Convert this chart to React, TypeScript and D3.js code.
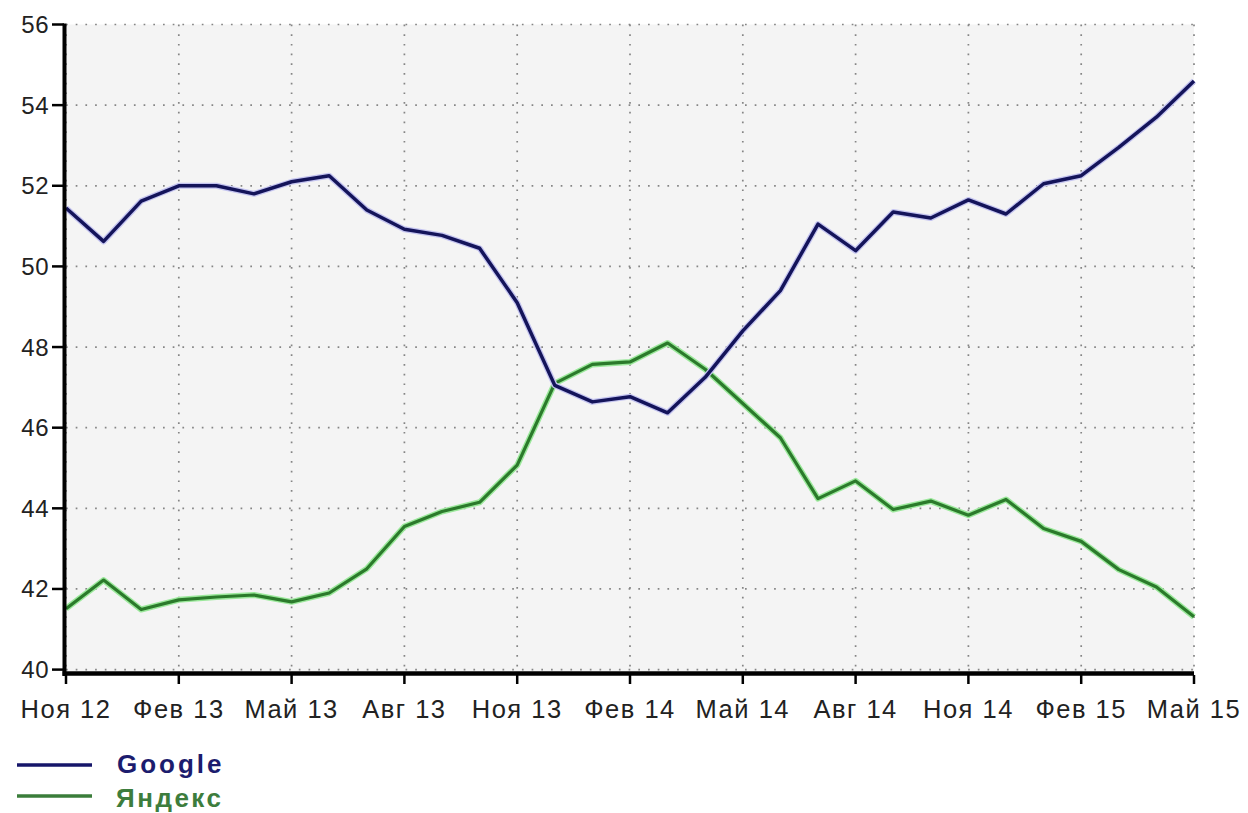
import React from "react";
import * as d3 from "d3";

const months = [
  "Ноя 12", "Дек 12", "Янв 13", "Фев 13", "Мар 13", "Апр 13", "Май 13", "Июн 13", "Июл 13", "Авг 13",
  "Сен 13", "Окт 13", "Ноя 13", "Дек 13", "Янв 14", "Фев 14", "Мар 14", "Апр 14", "Май 14", "Июн 14",
  "Июл 14", "Авг 14", "Сен 14", "Окт 14", "Ноя 14", "Дек 14", "Янв 15", "Фев 15", "Мар 15", "Апр 15", "Май 15",
];

const google = [
  51.45, 50.62, 51.62, 52.0, 52.0, 51.8, 52.1, 52.25, 51.4, 50.92,
  50.77, 50.45, 49.1, 47.05, 46.64, 46.77, 46.37, 47.25, 48.4, 49.4,
  51.05, 50.39, 51.35, 51.2, 51.65, 51.3, 52.05, 52.25, 52.95, 53.7, 54.6,
];

const yandex = [
  41.51, 42.22, 41.49, 41.73, 41.8, 41.85, 41.68, 41.9, 42.5, 43.55,
  43.92, 44.15, 45.07, 47.1, 47.57, 47.63, 48.1, 47.45, 46.6, 45.75,
  44.24, 44.68, 43.97, 44.18, 43.83, 44.22, 43.5, 43.18, 42.48, 42.05, 41.31,
];

const xTickIdx = [0, 3, 6, 9, 12, 15, 18, 21, 24, 27, 30];
const yTicks = [40, 42, 44, 46, 48, 50, 52, 54, 56];

const seriesNames = ["Google", "Яндекс"];

export default function App() {
  const W = 1248;
  const H = 813;
  const x = d3.scaleLinear().domain([0, months.length - 1]).range([66, 1194]);
  const y = d3.scaleLinear().domain([40, 56]).range([669.6, 24.5]);
  const line = d3
    .line<number>()
    .x((_, i) => x(i))
    .y((d) => y(d));

  const font = "'Liberation Sans', Arial, sans-serif";
  const grid = "#858585";

  return (
    <svg
      width={W}
      height={H}
      viewBox={`0 0 ${W} ${H}`}
      style={{ position: "absolute", left: 0, top: 0, background: "#ffffff" }}
    >
      {/* plot background */}
      <rect x={64} y={y(56)} width={x(30) - 64} height={671 - y(56)} fill="#f4f4f4" />

      {/* horizontal grid */}
      {yTicks.map((t) => (
        <line
          key={"hg" + t}
          x1={66}
          x2={x(30)}
          y1={y(t)}
          y2={y(t)}
          stroke={grid}
          strokeWidth={1.7}
          strokeDasharray="1.7,8"
        />
      ))}
      {/* vertical grid */}
      {xTickIdx.map((i) => (
        <line
          key={"vg" + i}
          x1={x(i)}
          x2={x(i)}
          y1={y(56)}
          y2={671}
          stroke={grid}
          strokeWidth={1.7}
          strokeDasharray="1.7,8"
        />
      ))}

      {/* series lines */}
      <path d={line(yandex) || ""} fill="none" stroke="#9be89b" strokeWidth={6} strokeLinejoin="round" />
      <path d={line(yandex) || ""} fill="none" stroke="#2b7a2b" strokeWidth={3.2} strokeLinejoin="round" />
      <path d={line(google) || ""} fill="none" stroke="#c4c4f0" strokeWidth={6} strokeLinejoin="round" />
      <path d={line(google) || ""} fill="none" stroke="#14145a" strokeWidth={3.5} strokeLinejoin="round" />

      {/* axes */}
      <line x1={64.5} x2={64.5} y1={y(56) - 1} y2={676} stroke="#000" strokeWidth={4} />
      <line x1={62.5} x2={x(30)} y1={673.5} y2={673.5} stroke="#000" strokeWidth={4.5} />

      {/* y ticks and labels */}
      {yTicks.map((t) => (
        <g key={"yt" + t}>
          <line x1={52} x2={64} y1={y(t)} y2={y(t)} stroke="#000" strokeWidth={2.5} />
          <text
            x={49.5}
            y={y(t) + 8.5}
            textAnchor="end"
            fontFamily={font}
            fontSize={24}
            letterSpacing={0.8}
            fill="#222"
          >
            {t}
          </text>
        </g>
      ))}

      {/* x ticks and labels */}
      {xTickIdx.map((i) => (
        <g key={"xt" + i}>
          <line x1={x(i)} x2={x(i)} y1={675} y2={684} stroke="#000" strokeWidth={2.5} />
          <text
            x={x(i)}
            y={717.5}
            textAnchor="middle"
            fontFamily={font}
            fontSize={25.5}
            letterSpacing={1.5}
            fill="#222"
          >
            {months[i]}
          </text>
        </g>
      ))}

      {/* legend */}
      <line x1={17} x2={92} y1={765} y2={765} stroke="#16166a" strokeWidth={3.5} />
      <text x={117} y={773} fontFamily={font} fontWeight="bold" fontSize={26} letterSpacing={3} fill="#1c1c6e">
        {seriesNames[0]}
      </text>
      <line x1={17} x2={92} y1={796} y2={796} stroke="#3a7d3a" strokeWidth={3.5} />
      <text x={116} y={807} fontFamily={font} fontWeight="bold" fontSize={26} letterSpacing={2.5} fill="#3d7d3d">
        {seriesNames[1]}
      </text>
    </svg>
  );
}
